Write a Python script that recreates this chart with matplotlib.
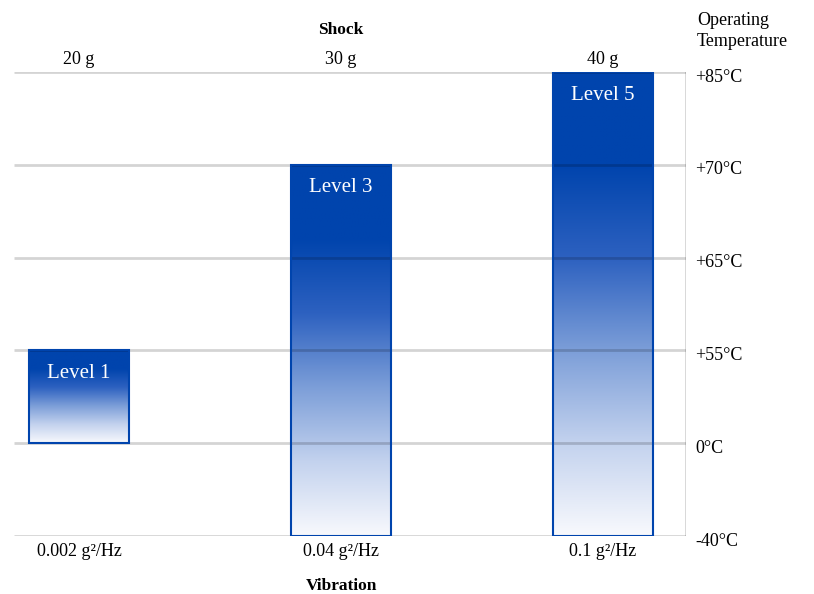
import matplotlib

matplotlib.use("Agg")
import matplotlib.pyplot as plt
import numpy as np
from matplotlib.colors import LinearSegmentedColormap
from matplotlib.patches import Rectangle

plt.rcParams["font.family"] = ["Liberation Serif", "DejaVu Serif"]

# Temperature scale, bottom to top (evenly spaced categories)
TEMPERATURES = ["-40°C", "0°C", "+55°C", "+65°C", "+70°C", "+85°C"]

LEVELS = ["Level 1", "Level 3", "Level 5"]
LOW_TEMP = ["0°C", "-40°C", "-40°C"]
HIGH_TEMP = ["+55°C", "+70°C", "+85°C"]
SHOCK = ["20 g", "30 g", "40 g"]
VIBRATION = ["0.002 g²/Hz", "0.04 g²/Hz", "0.1 g²/Hz"]

BLUE = "#0044ad"
BAR_WIDTH = 0.38

W, H = 814, 594
fig = plt.figure(figsize=(W / 100, H / 100), dpi=100)
ax = fig.add_axes([14 / W, (H - 536) / H, (686 - 14) / W, (536 - 72) / H])

x_left, x_right = -0.248, 2.317
ax.set_xlim(x_left, x_right)
ax.set_ylim(0, len(TEMPERATURES) - 1)
ax.axis("off")

# top-to-bottom fade used inside each bar
fade = LinearSegmentedColormap.from_list(
    "fade",
    [
        (0.0, BLUE),
        (0.2, BLUE),
        (0.4, "#2d61c0"),
        (0.6, "#7c9ed8"),
        (0.8, "#c3d2ee"),
        (1.0, "#f8f9fd"),
    ],
)
gradient = np.linspace(0, 1, 256).reshape(-1, 1)

for i, level in enumerate(LEVELS):
    lo = TEMPERATURES.index(LOW_TEMP[i])
    hi = TEMPERATURES.index(HIGH_TEMP[i])
    x0 = i - BAR_WIDTH / 2
    img = ax.imshow(
        gradient,
        cmap=fade,
        aspect="auto",
        extent=(x0, x0 + BAR_WIDTH, lo, hi),
        origin="upper",
        zorder=1,
        interpolation="bilinear",
    )
    rect = Rectangle((x0, lo), BAR_WIDTH, hi - lo, facecolor="none",
                     edgecolor=BLUE, linewidth=1.5, zorder=3)
    ax.add_patch(rect)
    img.set_clip_path(rect)
    ax.text(i, hi - 0.25, level, color="white", fontsize=15,
            ha="center", va="center", zorder=4)

# horizontal guides drawn over the bars
for j in range(len(TEMPERATURES)):
    ax.plot([x_left, x_right], [j, j], color=(0, 0, 0, 0.17), linewidth=2,
            zorder=2, solid_capstyle="butt")
ax.plot([x_right, x_right], [0, len(TEMPERATURES) - 1], color=(0, 0, 0, 0.17),
        linewidth=2, zorder=2)

# temperature labels on the right
for j, t in enumerate(TEMPERATURES):
    fig.text(695 / W, 1 - (536 - j * (536 - 72) / 5 + 5) / H, t,
             fontsize=13, ha="left", va="center")
fig.text(697 / W, 1 - 31 / H, "Operating\nTemperature", fontsize=13,
         ha="left", va="center", linespacing=1.25)

# shock and vibration labels
for i in range(len(LEVELS)):
    xc = ax.transData.transform((i, 0))[0] / W
    fig.text(xc, 1 - 59 / H, SHOCK[i], fontsize=13, ha="center", va="center")
    fig.text(xc, 1 - 552 / H, VIBRATION[i], fontsize=13, ha="center", va="center")
fig.text(341 / W, 1 - 30 / H, "Shock", fontsize=12.5, fontweight="bold",
         ha="center", va="center")
fig.text(341 / W, 1 - 586 / H, "Vibration", fontsize=12.5, fontweight="bold",
         ha="center", va="center")

fig.savefig("out.png", dpi=100, facecolor="white")
